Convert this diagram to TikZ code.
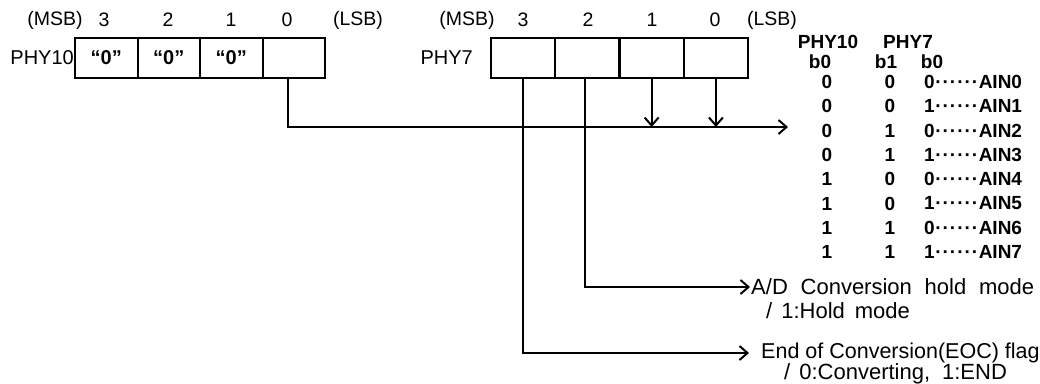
\documentclass[tikz,border=0pt]{standalone}
\usepackage{fontspec}
\setmainfont{Liberation Sans}
\usetikzlibrary{arrows.meta}
\newcommand\fsz[1]{\fontsize{#1}{#1}\selectfont}
\newcommand\spreadtxt[2]{\makebox[#1][s]{#2}}
\newcommand\dotrun{\hbox to 44pt{\cleaders\hbox to 7.3pt{\hss\textperiodcentered\hss}\hfil}}
\begin{document}
\begin{tikzpicture}[x=1pt,y=-1pt,
  cellA/.style={draw, line width=2pt, minimum width=62.5pt, minimum height=40pt, inner sep=0pt, font=\fsz{20}\bfseries},
  cellB/.style={draw, line width=2pt, minimum width=64.25pt, minimum height=40pt, inner sep=0pt},
  hdr/.style={inner sep=1pt, font=\fsz{19.5}},
  lbl/.style={inner sep=1pt, font=\fsz{20}},
  desc/.style={inner sep=1pt, font=\fsz{22}},
  tbl/.style={inner sep=1pt, font=\fsz{19}\bfseries},
  conn/.style={line width=2pt},
  arr/.style={-{Straight Barb[length=8pt,width=14pt,line width=2pt]}}
]
\useasboundingbox (0,0) rectangle (1040,383);
% PHY10 register
\node[hdr] (m10) at (55,20) {(MSB)};
\node[hdr] (d103) at (104,20) {3};
\node[hdr] (d102) at (168,20) {2};
\node[hdr] (d101) at (231,20) {1};
\node[hdr] (d100) at (287,20) {0};
\node[hdr] (s10) at (358,20) {(LSB)};
\node[lbl, anchor=east] (l10) at (75,58) {PHY10};
\node[cellA] (p10c3) at (106.25,58) {“0”};
\node[cellA] (p10c2) at (168.75,58) {“0”};
\node[cellA] (p10c1) at (231.25,58) {“0”};
\node[cellA] (p10c0) at (293.75,58) {};
% PHY7 register
\node[hdr] (m7) at (467,20) {(MSB)};
\node[hdr] (d73) at (523,20) {3};
\node[hdr] (d72) at (588,20) {2};
\node[hdr] (d71) at (652,20) {1};
\node[hdr] (d70) at (715,20) {0};
\node[hdr] (s7) at (772,20) {(LSB)};
\node[lbl, anchor=east] (l7) at (474,58) {PHY7};
\node[cellB] (p7c3) at (523.1,58) {};
\node[cellB] (p7c2) at (587.4,58) {};
\node[cellB] (p7c1) at (651.6,58) {};
\node[cellB] (p7c0) at (715.9,58) {};
% connectors
\coordinate (mtip) at (788,127);
\draw[conn,arr] ([xshift=-6pt]p10c0.south) |- (mtip);
\draw[conn,arr] (p7c1.south) -- (p7c1.south |- mtip);
\draw[conn,arr] (p7c0.south) -- (p7c0.south |- mtip);
\node[desc, anchor=west] (ad1) at (750,287) {\spreadtxt{283pt}{A/D Conversion hold mode}};
\node[desc, anchor=west] (ad2) at (765,311) {/\hspace{9pt}1:Hold\hspace{10pt}mode};
\node[desc, anchor=west, font=\fsz{21.5}] (eo1) at (760,353) {End of Conversion(EOC) flag};
\node[desc, anchor=west] (eo2) at (783,374) {/\hspace{9pt}0:Converting,\hspace{12pt}1:END};
\draw[conn,arr] ([xshift=-2pt]p7c2.south) |- (ad1.west);
\draw[conn,arr] (p7c3.south) |- ([xshift=-11pt]eo1.west);
% table
\node[tbl] (t10) at (828,42) {PHY10};
\node[tbl] (t7) at (908,42) {PHY7};
\node[tbl] (tb0a) at (820,62) {b0};
\node[tbl] (tb1) at (886,62) {b1};
\node[tbl] (tb0b) at (932,62) {b0};
\foreach \i/\a/\b/\c in {0/0/0/0,1/0/0/1,2/0/1/0,3/0/1/1,4/1/0/0,5/1/0/1,6/1/1/0,7/1/1/1}{
  \node[tbl] (ra\i) at (827,82+24.3*\i) {\a};
  \node[tbl] (rb\i) at (890,82+24.3*\i) {\b};
  \node[tbl, anchor=west] (rc\i) at (923,82+24.3*\i) {\c\dotrun AIN\i};
}
\end{tikzpicture}
\end{document}
